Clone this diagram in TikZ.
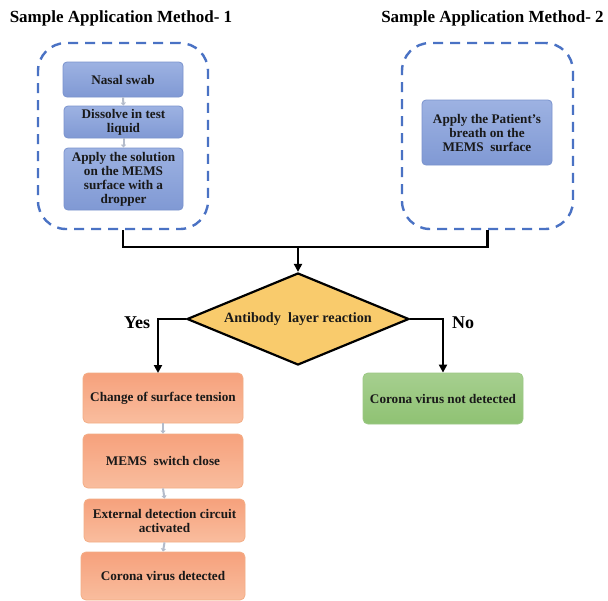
\documentclass[tikz,border=0pt]{standalone}
\usepackage{fontspec}
\setmainfont{Liberation Serif}
\usetikzlibrary{shapes.geometric,arrows.meta}
\definecolor{dashblue}{HTML}{4A72C4}
\definecolor{bluetop}{HTML}{9DB2E2}
\definecolor{bluebot}{HTML}{8099D4}
\definecolor{blueline}{HTML}{7A93CE}
\definecolor{orgtop}{HTML}{F6A17C}
\definecolor{orgbot}{HTML}{F9BD9E}
\definecolor{orgline}{HTML}{F3AE86}
\definecolor{grntop}{HTML}{A6CF8F}
\definecolor{grnbot}{HTML}{8FC273}
\definecolor{grnline}{HTML}{9CC985}
\definecolor{diafill}{HTML}{F9CB6C}
\definecolor{smallarr}{HTML}{B4BCCB}
\tikzset{
  txt/.style={font=\bfseries\fontsize{13.2}{14}\selectfont, align=center, text=black!90, inner sep=0pt},
  bluebox/.style={txt, rectangle, rounded corners=4pt, draw=blueline, line width=0.8pt, top color=bluetop, bottom color=bluebot},
  orgbox/.style={txt, rectangle, rounded corners=5pt, draw=orgline, line width=0.8pt, top color=orgtop, bottom color=orgbot},
  grnbox/.style={txt, rectangle, rounded corners=5pt, draw=grnline, line width=0.8pt, top color=grntop, bottom color=grnbot},
  dashbox/.style={rectangle, rounded corners=28pt, draw=dashblue, line width=2.4pt, dash pattern=on 10pt off 7pt},
  title/.style={font=\bfseries\fontsize{17}{20}\selectfont, inner sep=0pt},
  yn/.style={font=\bfseries\fontsize{18}{20}\selectfont, inner sep=0pt},
  mainline/.style={line width=2.4pt, black, -{Triangle[length=8pt,width=8pt]}},
  plainline/.style={line width=2.4pt, black},
  tinyarr/.style={smallarr, line width=2pt, -{Triangle[length=3pt,width=5pt]}},
}
\begin{document}
\begin{tikzpicture}[x=1pt,y=-1pt]
\useasboundingbox[fill=white] (0,0) rectangle (608,600);

% titles
\node[title] (t1) at (121,18) {Sample Application Method- 1};
\node[title] (t2) at (492.5,18) {Sample Application Method- 2};

% dashed containers
\node[dashbox, minimum width=170pt, minimum height=186pt] (d1) at (123,136) {};
\node[dashbox, minimum width=171pt, minimum height=186pt] (d2) at (487.5,136) {};

% method 1 steps
\node[bluebox, minimum width=120pt, minimum height=35pt] (nasal) at (123,79.5) {Nasal swab};
\node[bluebox, minimum width=119pt, minimum height=32pt] (diss) at (123.5,122) {Dissolve in test\\liquid};
\node[bluebox, minimum width=119pt, minimum height=62pt] (apply) at (123.5,179) {Apply the solution\\on the MEMS\\surface with a\\dropper};
\draw[tinyarr] (nasal.south) -- (diss.north);
\draw[tinyarr] (diss.south) -- (apply.north);

% method 2
\node[bluebox, minimum width=130pt, minimum height=65pt] (breath) at (487,132.5) {Apply the Patient's\\breath on the\\MEMS\ \ surface};

% join
\coordinate (j) at (298,247);
\draw[plainline] (d1.south) |- (j) -| (d2.south);

% decision
\node[diamond, aspect=2.4, minimum width=222pt, minimum height=92pt, inner sep=0pt, draw=black, line width=2.2pt, fill=diafill,
      font=\bfseries\fontsize{14.2}{16}\selectfont, text=black!90] (dec) at (298,319) {Antibody\ \ layer reaction};
\draw[mainline] (j) -- (dec.north);

% results
\node[orgbox, minimum width=160pt, minimum height=50pt] (chg) at (163,398) {Change of surface tension};
\node[orgbox, minimum width=160pt, minimum height=54pt] (mems) at (163,461) {MEMS\ \ switch close};
\node[orgbox, minimum width=161pt, minimum height=43pt] (ext) at (164.5,520.5) {External detection circuit\\activated};
\node[orgbox, minimum width=164pt, minimum height=48pt] (det) at (163,576) {Corona virus detected};
\node[grnbox, minimum width=160pt, minimum height=51pt] (nodet) at (443,398.5) {Corona virus not detected};

\draw[tinyarr] (chg.south) -- (mems.north);
\draw[tinyarr] (mems.south) -- (ext.north);
\draw[tinyarr] (ext.south) -- (det.north);

\coordinate (yesend) at (158,373);
\draw[mainline] (dec.west) -| (yesend);
\draw[mainline] (dec.east) -| (nodet.north);

\node[yn] (yes) at (137,323) {Yes};
\node[yn] (no) at (463,323) {No};
\end{tikzpicture}
\end{document}
